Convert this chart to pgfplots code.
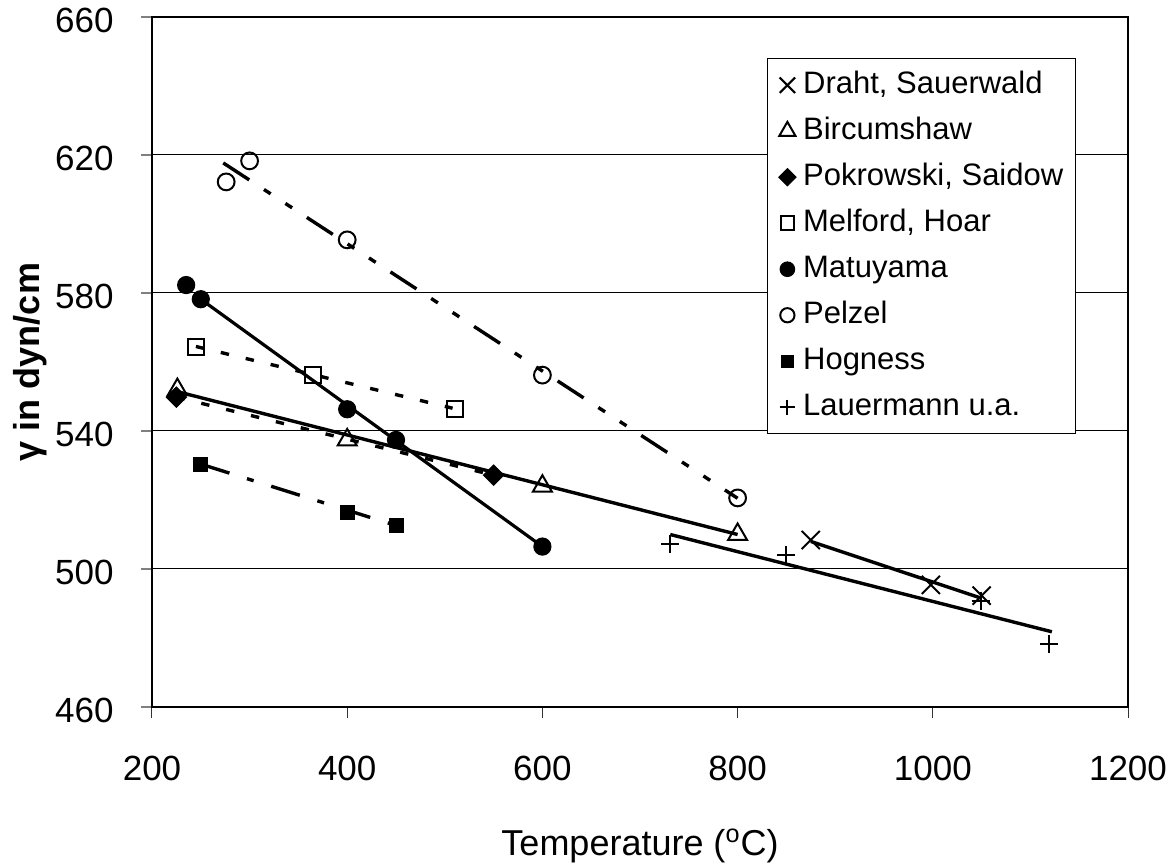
\documentclass[border=0pt]{standalone}
\usepackage{pgfplots}
\pgfplotsset{compat=1.18}
\usepackage{fontspec}
\setmainfont{Liberation Sans}

\pgfplotsset{
  lg/.style={legend image code/.code={
      \path (0pt,0pt) (11pt,0pt);
      \draw[##1, every mark/.append style={scale=0.85}] plot coordinates {(5.5pt,0pt)};}},
}

\begin{document}
\begin{tikzpicture}
\begin{axis}[
  name=ax,
  scale only axis,
  width=488pt, height=345pt,
  xmin=200, xmax=1200, ymin=460, ymax=660,
  xtick={200,400,...,1200}, ytick={460,500,...,660},
  tick pos=left, tick align=outside, major tick length=5.5pt,
  axis line style={line width=1pt},
  ymajorgrids, grid style={black, line width=0.5pt},
  xtick style={black!80, line width=0.5pt},
  ytick style={gray, line width=0.6pt},
  /pgf/number format/assume math mode=true,
  /pgf/number format/set thousands separator={},
  ticklabel style={font=\fontsize{17.5}{21}\selectfont},
  xticklabel style={anchor=base, inner sep=0pt, yshift=-31pt},
  yticklabel style={anchor=east, inner sep=0pt, xshift=-13.5pt, yshift=-1.5pt},
  xlabel={Temperature (\textsuperscript{o}C)},
  ylabel={\textbf{γ in dyn/cm}},
  xlabel style={at={(axis description cs:0.5,-0.2145)}, anchor=base, inner sep=0pt, font=\fontsize{18}{21}\selectfont},
  ylabel style={at={(axis description cs:-0.1148,0.5)}, anchor=base, inner sep=0pt, font=\fontsize{18}{21}\selectfont},
  legend style={at={(0.630,0.9406)}, anchor=north west, draw=black, line width=0.75pt,
    inner xsep=4pt, inner ysep=5.75pt, font=\fontsize{15.5}{18}\selectfont,
    nodes={inner xsep=2pt, inner ysep=0pt, text height=11.5pt, text depth=3.5pt},
    row sep=8pt, column sep=0pt},
  legend cell align=left,
]
% ---- trendlines ----
% Draht, Sauerwald
\addplot[forget plot, line width=1.7pt] coordinates {(875,508.0) (1050,491.5)};
% Bircumshaw
\addplot[forget plot, line width=1.7pt] coordinates {(226,551.4) (800,510.0)};
% Pokrowski, Saidow
\addplot[forget plot, line width=1.7pt, dash pattern=on 4.2pt off 8.6pt] coordinates {(225,549.8) (550,527.2)};
% Melford, Hoar
\addplot[forget plot, line width=1.7pt, dash pattern=on 4.2pt off 8.6pt] coordinates {(245,564.5) (508,546.6)};
% Matuyama
\addplot[forget plot, line width=1.6pt] coordinates {(250,578.2) (600,506.5)};
% Pelzel
\addplot[forget plot, line width=1.7pt, dash pattern=on 15.5pt off 8.8pt on 4pt off 8.8pt on 4pt off 8.8pt] coordinates {(273,617.7) (800,520.5)};
% Hogness
\addplot[forget plot, line width=1.7pt, dash pattern=on 15pt off 9.2pt on 3.5pt off 9.2pt] coordinates {(250,530.4) (450,512.6)};
% Lauermann u.a.
\addplot[forget plot, line width=1.7pt] coordinates {(731,510.0) (1122,481.8)};

% ---- data markers ----
\addplot[only marks, mark=x, mark size=6.4pt, mark options={line width=1pt}, lg]
  coordinates {(875,508.4) (998,495.4) (1050,492.3)};
\addlegendentry{Draht, Sauerwald}
\addplot[only marks, mark=triangle, mark size=5.5pt, mark options={line width=1pt}, lg]
  coordinates {(226,552.0) (400,537.4) (600,524.0) (800,510.0)};
\addlegendentry{Bircumshaw}
\addplot[only marks, mark=square*, mark size=3.6pt, mark options={rotate=45, line width=0.5pt}, lg]
  coordinates {(225,549.8) (550,527.2)};
\addlegendentry{Pokrowski, Saidow}
\addplot[only marks, mark=square, mark size=4pt, mark options={line width=1pt}, lg]
  coordinates {(245,564.3) (365,556.2) (510,546.3)};
\addlegendentry{Melford, Hoar}
\addplot[only marks, mark=*, mark size=4.3pt, mark options={line width=0.5pt}, lg]
  coordinates {(235,582.3) (250,578.2) (400,546.3) (450,537.4) (600,506.5)};
\addlegendentry{Matuyama}
\addplot[only marks, mark=o, mark size=4.2pt, mark options={line width=1pt}, lg]
  coordinates {(276,612.2) (300,618.3) (400,595.4) (600,556.2) (800,520.6)};
\addlegendentry{Pelzel}
\addplot[only marks, mark=square*, mark size=3.5pt, mark options={line width=0.5pt}, lg]
  coordinates {(250,530.4) (400,516.3) (450,512.5)};
\addlegendentry{Hogness}
\addplot[only marks, mark=+, mark size=4.5pt, mark options={line width=1pt}, lg]
  coordinates {(731,507.2) (850,504.1) (1049,490.8) (1119,478.3)};
\addlegendentry{Lauermann u.a.}
\end{axis}
\pgfresetboundingbox
\path ([xshift=-76pt,yshift=-79.5pt]ax.south west) rectangle ([xshift=22pt,yshift=8.5pt]ax.north east);
\end{tikzpicture}
\end{document}
